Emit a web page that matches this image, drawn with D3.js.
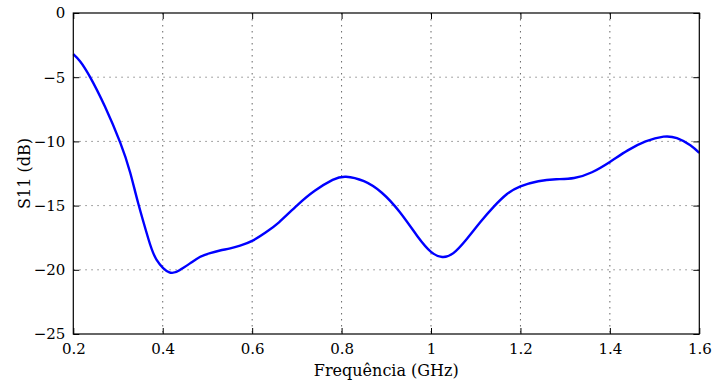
<!DOCTYPE html>
<html><head><meta charset="utf-8">
<script src="https://cdn.jsdelivr.net/npm/d3@7"></script>
<style>body{margin:0;background:#fff}svg{display:block}</style>
</head><body>
<script>
const freq = [0.2,0.215,0.237,0.271,0.305,0.327,0.345,0.368,0.386,0.415,0.439,0.461,0.483,0.506,0.528,0.551,0.573,0.6,0.63,0.66,0.7,0.74,0.78,0.81,0.85,0.89,0.93,0.97,1.0,1.025,1.05,1.08,1.11,1.14,1.17,1.2,1.24,1.28,1.32,1.36,1.4,1.44,1.48,1.52,1.55,1.58,1.6];
const s11 = [-3.2,-3.75,-4.95,-7.3,-10.1,-12.4,-14.8,-17.6,-19.2,-20.2,-20.0,-19.5,-19.0,-18.7,-18.5,-18.33,-18.12,-17.75,-17.1,-16.3,-15.0,-13.85,-13.0,-12.75,-13.1,-14.0,-15.5,-17.4,-18.6,-19.0,-18.7,-17.6,-16.3,-15.1,-14.1,-13.5,-13.1,-12.95,-12.85,-12.4,-11.6,-10.7,-10.0,-9.63,-9.75,-10.3,-10.9];
const xTicks = [0.2,0.4,0.6,0.8,1.0,1.2,1.4,1.6];
const yTicks = [0,-5,-10,-15,-20,-25];
const xLabel = "Frequência (GHz)";
const yLabel = "S11 (dB)";

const W=712,H=383, L=73.3, R=699.3, T=13, B=334;
const svg=d3.select("body").append("svg").attr("width",W).attr("height",H);
const x=d3.scaleLinear().domain([0.2,1.6]).range([L,R]);
const y=d3.scaleLinear().domain([-25,0]).range([B,T]);
const fmt=d=>String(d).replace("-","\u2212");
const serif="DejaVu Serif";

// grid
const g=svg.append("g");
g.selectAll(".vg").data(xTicks.slice(1,-1)).join("line")
 .attr("x1",d=>x(d)).attr("x2",d=>x(d)).attr("y1",T).attr("y2",B)
 .attr("stroke","#666").attr("stroke-width",1).attr("stroke-dasharray","1.5,4.5");
g.selectAll(".hg").data(yTicks.slice(1,-1)).join("line")
 .attr("y1",d=>y(d)).attr("y2",d=>y(d)).attr("x1",L).attr("x2",R)
 .attr("stroke","#888").attr("stroke-width",1).attr("stroke-dasharray","1.5,4.5");

// curve
const line=d3.line().x((d,i)=>x(freq[i])).y(d=>y(d)).curve(d3.curveNatural);
svg.append("path").datum(s11).attr("d",line).attr("fill","none")
 .attr("stroke","#0000ff").attr("stroke-width",2.4);

// axes (ticks inward)
const tl=6;
function style(a){a.attr("font-family",serif).attr("font-size",15);a.select(".domain").remove();a.selectAll("line").attr("stroke","#000");a.selectAll("text").style("font-family",serif).attr("fill","#000");}
svg.append("g").attr("transform",`translate(0,${B})`)
 .call(d3.axisBottom(x).tickValues(xTicks).tickSizeInner(-tl).tickSizeOuter(0).tickPadding(9).tickFormat(d=>String(+d.toFixed(1))))
 .call(style);
svg.append("g").attr("transform",`translate(0,${T})`)
 .call(d3.axisTop(x).tickValues(xTicks).tickSizeInner(-tl).tickSizeOuter(0).tickFormat(""))
 .call(style);
svg.append("g").attr("transform",`translate(${L},0)`)
 .call(d3.axisLeft(y).tickValues(yTicks).tickSizeInner(-tl).tickSizeOuter(0).tickPadding(8).tickFormat(fmt))
 .call(style);
svg.append("g").attr("transform",`translate(${R},0)`)
 .call(d3.axisRight(y).tickValues(yTicks).tickSizeInner(-tl).tickSizeOuter(0).tickFormat(""))
 .call(style);
svg.append("rect").attr("x",L).attr("y",T).attr("width",R-L).attr("height",B-T)
 .attr("fill","none").attr("stroke","#000").attr("stroke-width",1.2);

svg.append("text").attr("x",(L+R)/2).attr("y",376).attr("text-anchor","middle")
 .style("font-family",serif).attr("font-size",16).text(xLabel);
svg.append("text").attr("transform",`translate(30,${(T+B)/2}) rotate(-90)`).attr("text-anchor","middle")
 .style("font-family",serif).attr("font-size",16).text(yLabel);
</script>
</body></html>
